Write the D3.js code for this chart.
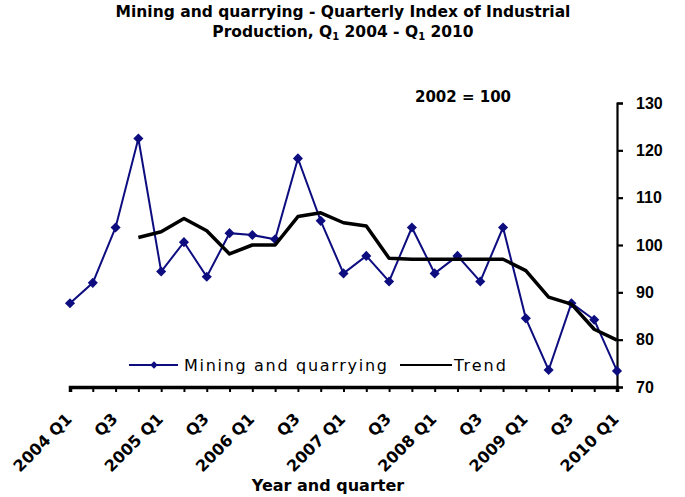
<!DOCTYPE html>
<html>
<head>
<meta charset="utf-8">
<script src="https://cdn.jsdelivr.net/npm/d3@7"></script>
<style>
  body { margin: 0; background: #fff; }
  svg { font-family: "DejaVu Sans", "Liberation Sans", Arial, sans-serif; }
</style>
</head>
<body>
<svg id="chart" width="685" height="497"></svg>
<script>
// Quarters 2004 Q1 .. 2010 Q1
const quarters = [
  '2004 Q1','Q2','Q3','Q4','2005 Q1','Q2','Q3','Q4','2006 Q1','Q2','Q3','Q4',
  '2007 Q1','Q2','Q3','Q4','2008 Q1','Q2','Q3','Q4','2009 Q1','Q2','Q3','Q4','2010 Q1'
];
// Index values
const mining = [87.7, 92.0, 103.7, 122.5, 94.4, 100.6, 93.3, 102.5, 102.1, 101.2, 118.3, 105.1,
  94.0, 97.7, 92.3, 103.7, 94.0, 97.7, 92.3, 103.7, 84.5, 73.6, 87.7, 84.2, 73.4];
// Trend starts at 2004 Q4
const trend = [null, null, null, 101.6, 102.8, 105.6, 103.0, 98.1, 100.0, 100.0, 106.0, 106.8,
  104.7, 104.0, 97.2, 97.0, 97.0, 97.0, 97.0, 97.0, 94.6, 89.0, 87.5, 82.2, 79.9];
const yTicks = [70, 80, 90, 100, 110, 120, 130];

const svg = d3.select('#chart');
const plotLeft = 70, plotRight = 617, plotTop = 103, plotBottom = 387;

const x = d3.scalePoint().domain(d3.range(quarters.length)).range([plotLeft, plotRight]);
const y = d3.scaleLinear().domain([70, 130]).range([plotBottom, plotTop]);

// Title
const title = svg.append('text').attr('text-anchor', 'middle')
  .style('font-weight', 'bold').style('font-size', '15.5px');
title.append('tspan').attr('x', 343).attr('y', 17)
  .text('Mining and quarrying - Quarterly Index of Industrial');
const t2 = title.append('tspan').attr('x', 343).attr('y', 37);
t2.append('tspan').text('Production, Q');
t2.append('tspan').attr('font-size', '10px').attr('dy', 3).text('1');
t2.append('tspan').attr('dy', -3).text(' 2004 - Q');
t2.append('tspan').attr('font-size', '10px').attr('dy', 3).text('1');
t2.append('tspan').attr('dy', -3).text(' 2010');

svg.append('text').attr('x', 463).attr('y', 102).attr('text-anchor', 'middle')
  .style('font-weight', 'bold').style('font-size', '15px').text('2002 = 100');

// Y axis on the right
const yAxis = svg.append('g').attr('transform', `translate(${plotRight},0)`)
  .call(d3.axisRight(y).tickValues(yTicks).tickSize(6).tickPadding(13));
yAxis.select('.domain').attr('stroke', '#000').attr('stroke-width', 2.2);
yAxis.selectAll('.tick line').attr('stroke', '#000').attr('stroke-width', 2.2);
yAxis.selectAll('.tick text').style('font-size', '16px').style('font-weight', 'bold')
  .attr('fill', '#000');

// X axis
const xAxis = svg.append('g').attr('transform', `translate(0,${plotBottom})`)
  .call(d3.axisBottom(x).tickSize(5).tickFormat(''));
xAxis.select('.domain').attr('stroke', '#000').attr('stroke-width', 3.5);
xAxis.selectAll('.tick line').attr('stroke', '#000').attr('stroke-width', 2);

svg.append('g').selectAll('text')
  .data(quarters.map((q, i) => ({ q, i })).filter(d => d.i % 2 === 0))
  .enter().append('text')
  .attr('transform', d => `translate(${x(d.i) + 3},${plotBottom + 33}) rotate(-45)`)
  .attr('text-anchor', 'end')
  .style('font-size', '16px').style('font-weight', 'bold')
  .text(d => d.q);

svg.append('text').attr('x', 328).attr('y', 491).attr('text-anchor', 'middle')
  .style('font-size', '16px').style('font-weight', 'bold').text('Year and quarter');

// Mining series
const blue = '#0d0d80';
const line = d3.line().defined(d => d != null).x((d, i) => x(i)).y(d => y(d));
svg.append('path').datum(mining).attr('d', line)
  .attr('fill', 'none').attr('stroke', blue).attr('stroke-width', 2);

const diamond = d3.symbol().type(d3.symbolDiamond2).size(65);
svg.append('g').selectAll('path').data(mining).enter().append('path')
  .attr('d', diamond)
  .attr('transform', (d, i) => `translate(${x(i)},${y(d)})`)
  .attr('fill', blue);

// Trend
svg.append('path').datum(trend).attr('d', line)
  .attr('fill', 'none').attr('stroke', '#000').attr('stroke-width', 3.5)
  .attr('stroke-linejoin', 'round');

// Legend
const lg = svg.append('g').attr('transform', 'translate(0,365)');
lg.append('line').attr('x1', 129).attr('x2', 178).attr('stroke', blue).attr('stroke-width', 2);
lg.append('path').attr('d', d3.symbol().type(d3.symbolDiamond2).size(35)())
  .attr('transform', 'translate(154,0)').attr('fill', blue);
lg.append('text').attr('x', 184).attr('y', 6).style('font-size', '16px')
  .style('letter-spacing', '1.7px').text('Mining and quarrying');
lg.append('line').attr('x1', 400).attr('x2', 452).attr('stroke', '#000').attr('stroke-width', 2);
lg.append('text').attr('x', 454).attr('y', 6).style('font-size', '16px')
  .style('letter-spacing', '2px').text('Trend');
</script>
</body>
</html>
